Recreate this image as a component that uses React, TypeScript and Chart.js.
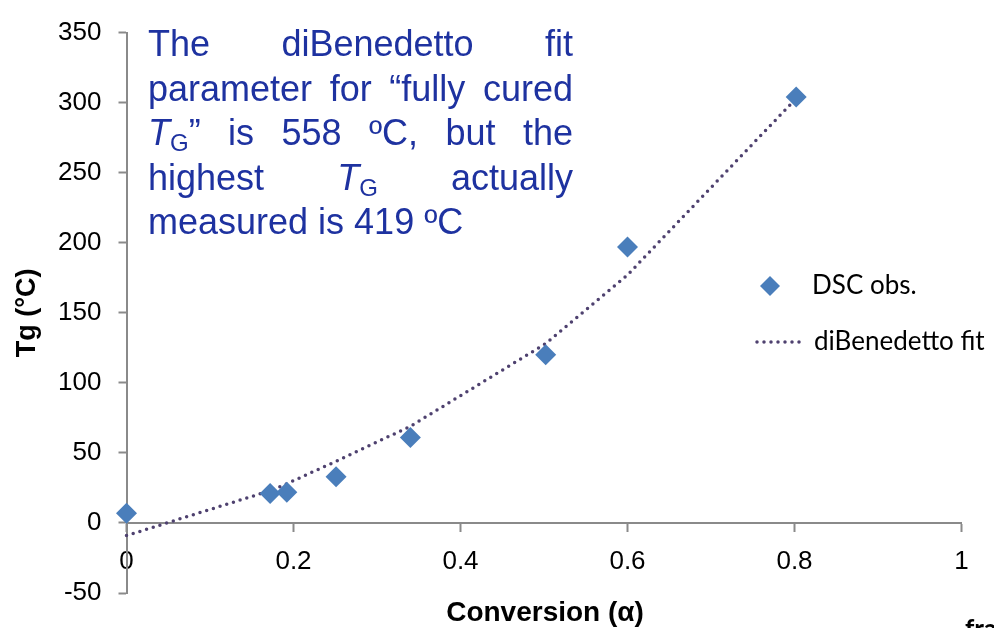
import React, { useEffect, useRef } from 'react';
import { Chart, registerables } from 'chart.js';

Chart.register(...registerables);

// ---- data ----
const conversionObs = [0, 0.172, 0.192, 0.251, 0.34, 0.502, 0.6, 0.802];
const tgObs = [7, 21, 22, 33, 61, 120, 197, 304];
const conversionFit = [0, 0.172, 0.192, 0.251, 0.34, 0.502, 0.6, 0.802];
const tgFit = [-9, 23, 28, 44, 69, 128, 177, 303];
const xTickLabels = ['0', '0.2', '0.4', '0.6', '0.8', '1'];
const yTickLabels = ['-50', '0', '50', '100', '150', '200', '250', '300', '350'];
const seriesNames = ['DSC obs.', 'diBenedetto fit'];
const xTitle = 'Conversion (\u03b1)';
const yTitle = 'Tg (\u00b0C)';
const noteLines = [
  'The diBenedetto fit',
  'parameter for \u201cfully cured',
  '{TG}\u201d is 558 \u00baC, but the',
  'highest {TG} actually',
  'measured is 419 \u00baC',
];
const cutOffText = 'fraction';

// ---- styles ----
const MARKER_COLOR = '#4A7EBB';
const FIT_COLOR = '#4E416F';
const AXIS_COLOR = '#8A8A8A';
const NOTE_COLOR = '#1E32A0';
const SANS = '"Liberation Sans", Arial, sans-serif';

type Seg = { t: string; f: 'n' | 'i' | 's' };

function parseWord(w: string): Seg[] {
  const idx = w.indexOf('{TG}');
  if (idx < 0) return [{ t: w, f: 'n' }];
  const segs: Seg[] = [];
  const before = w.slice(0, idx);
  const after = w.slice(idx + 4);
  if (before) segs.push({ t: before, f: 'n' });
  segs.push({ t: 'T', f: 'i' });
  segs.push({ t: 'G', f: 's' });
  if (after) segs.push({ t: after, f: 'n' });
  return segs;
}

const fontFor = (f: string) =>
  f === 'i' ? `italic 36px ${SANS}` : f === 's' ? `24px ${SANS}` : `36px ${SANS}`;

function measureWord(ctx: CanvasRenderingContext2D, segs: Seg[]) {
  let w = 0;
  segs.forEach((s) => {
    ctx.font = fontFor(s.f);
    w += ctx.measureText(s.t).width;
  });
  return w;
}

function drawWord(ctx: CanvasRenderingContext2D, segs: Seg[], x: number, y: number) {
  let cx = x;
  segs.forEach((s) => {
    ctx.font = fontFor(s.f);
    ctx.fillText(s.t, cx, s.f === 's' ? y + 6 : y);
    cx += ctx.measureText(s.t).width;
  });
}

const notePlugin = {
  id: 'noteText',
  afterDraw(chart: any) {
    const ctx: CanvasRenderingContext2D = chart.ctx;
    ctx.save();
    const left = 148;
    const right = 573;
    const top = 56;
    const lh = 44.5;
    ctx.fillStyle = NOTE_COLOR;
    ctx.textAlign = 'left';
    ctx.textBaseline = 'alphabetic';
    noteLines.forEach((line, li) => {
      const words = line.split(' ').map(parseWord);
      const widths = words.map((w) => measureWord(ctx, w));
      const total = widths.reduce((a, b) => a + b, 0);
      ctx.font = fontFor('n');
      const sp = ctx.measureText(' ').width;
      const last = li === noteLines.length - 1;
      const gap = last || words.length < 2 ? sp : (right - left - total) / (words.length - 1);
      let x = left;
      const y = top + li * lh;
      words.forEach((w, i) => {
        drawWord(ctx, w, x, y);
        x += widths[i] + gap;
      });
    });
    ctx.restore();
  },
};

const legendPlugin = {
  id: 'customLegend',
  afterDraw(chart: any) {
    const ctx: CanvasRenderingContext2D = chart.ctx;
    const ds0 = chart.data.datasets[0];
    const ds1 = chart.data.datasets[1];
    ctx.save();
    const cx = 770;
    const cy = 286;
    const r = 10;
    ctx.fillStyle = ds0.backgroundColor;
    ctx.beginPath();
    ctx.moveTo(cx, cy - r);
    ctx.lineTo(cx + r, cy);
    ctx.lineTo(cx, cy + r);
    ctx.lineTo(cx - r, cy);
    ctx.closePath();
    ctx.fill();
    ctx.strokeStyle = ds1.borderColor;
    ctx.lineWidth = ds1.borderWidth;
    ctx.lineCap = 'round';
    ctx.setLineDash(ds1.borderDash);
    ctx.beginPath();
    ctx.moveTo(757, 342);
    ctx.lineTo(806, 342);
    ctx.stroke();
    ctx.setLineDash([]);
    ctx.fillStyle = '#000';
    ctx.font = '26px Lato, "Noto Sans", sans-serif';
    ctx.textAlign = 'left';
    ctx.textBaseline = 'middle';
    ctx.fillText(ds0.label, 812, cy);
    ctx.fillText(ds1.label, 814, 342);
    ctx.restore();
  },
};

const titlePlugin = {
  id: 'xTitleText',
  afterDraw(chart: any) {
    const ctx: CanvasRenderingContext2D = chart.ctx;
    ctx.save();
    ctx.fillStyle = '#000';
    ctx.font = `bold 28px ${SANS}`;
    ctx.textAlign = 'center';
    ctx.textBaseline = 'alphabetic';
    ctx.fillText(xTitle, 545, 621);
    ctx.font = 'bold 26px Lato, sans-serif';
    ctx.textAlign = 'left';
    ctx.fillText(cutOffText, 965, 638);
    ctx.restore();
  },
};

export default function App() {
  const canvasRef = useRef<HTMLCanvasElement | null>(null);

  useEffect(() => {
    const canvas = canvasRef.current;
    if (!canvas) return;
    const chart = new Chart(canvas, {
      type: 'scatter',
      data: {
        datasets: [
          {
            label: seriesNames[0],
            data: conversionObs.map((x, i) => ({ x, y: tgObs[i] })),
            backgroundColor: MARKER_COLOR,
            borderColor: MARKER_COLOR,
            pointStyle: 'rectRot',
            pointRadius: 10.5,
            pointHoverRadius: 10.5,
            pointBorderWidth: 0,
            showLine: false,
            clip: false,
          } as any,
          {
            label: seriesNames[1],
            data: conversionFit.map((x, i) => ({ x, y: tgFit[i] })),
            borderColor: FIT_COLOR,
            backgroundColor: FIT_COLOR,
            borderWidth: 3.5,
            borderDash: [0, 7],
            borderCapStyle: 'round',
            pointRadius: 0,
            pointHoverRadius: 0,
            showLine: true,
            tension: 0,
            clip: false,
          } as any,
        ],
      },
      options: {
        animation: false,
        responsive: false,
        devicePixelRatio: 1,
        layout: { padding: { left: 0, right: 32.5, top: 19, bottom: 35 } },
        plugins: {
          legend: { display: false },
          tooltip: { enabled: false },
        },
        scales: {
          x: {
            type: 'linear',
            position: { y: 0 } as any,
            min: 0,
            max: 1,
            afterFit: (s: any) => {
              s.height = 0;
            },
            ticks: {
              stepSize: 0.2,
              autoSkip: false,
              maxRotation: 0,
              padding: 15,
              color: '#000',
              font: { family: SANS, size: 26 },
              callback: (_v: any, i: number) => xTickLabels[i],
            },
            grid: {
              drawOnChartArea: false,
              drawTicks: true,
              tickLength: 8,
              tickColor: AXIS_COLOR,
              tickWidth: 2,
            },
            border: { display: true, color: AXIS_COLOR, width: 2 },
            title: { display: false },
          },
          y: {
            type: 'linear',
            position: 'left',
            min: -50,
            max: 350,
            afterFit: (s: any) => {
              s.width = 126.5;
            },
            ticks: {
              stepSize: 50,
              autoSkip: false,
              padding: 17,
              color: '#000',
              font: { family: SANS, size: 26 },
              callback: (_v: any, i: number) => yTickLabels[i],
            },
            grid: {
              drawOnChartArea: false,
              drawTicks: true,
              tickLength: 8,
              tickColor: AXIS_COLOR,
              tickWidth: 2,
            },
            border: { display: true, color: AXIS_COLOR, width: 2 },
            title: {
              display: true,
              text: yTitle,
              color: '#000',
              font: { family: SANS, size: 27, weight: 'bold' },
              padding: { top: 11, bottom: 0 },
            },
          },
        },
      },
      plugins: [notePlugin, legendPlugin, titlePlugin],
    });
    return () => chart.destroy();
  }, []);

  return (
    <div style={{ position: 'absolute', left: 0, top: 0, width: 994, height: 628, background: '#fff' }}>
      <canvas ref={canvasRef} width={994} height={628} style={{ display: 'block' }} />
    </div>
  );
}
